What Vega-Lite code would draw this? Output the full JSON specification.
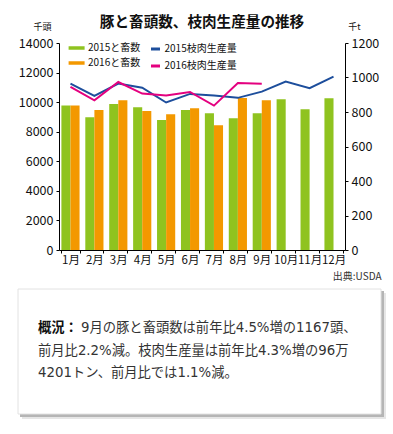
{
  "$schema": "https://vega.github.io/schema/vega-lite/v6.json",
  "padding": {"left": 17, "top": 14, "right": 5, "bottom": 5},
  "background": "white",
  "columns": 1,
  "align": "none",
  "spacing": 7,
  "config": {
    "font": "Noto Sans CJK JP",
    "view": {"stroke": null},
    "axis": {
      "labelFont": "Noto Sans CJK JP",
      "titleFont": "Noto Sans CJK JP",
      "domainColor": "#000",
      "tickColor": "#000",
      "labelColor": "#111",
      "titleColor": "#111",
      "grid": false,
      "tickSize": 3,
      "labelPadding": 3
    },
    "legend": {"labelFont": "Noto Sans CJK JP"}
  },
  "datasets": {
    "heads": [
      {"month": "1月", "series": "2015と畜数", "value": 9770},
      {"month": "2月", "series": "2015と畜数", "value": 8980},
      {"month": "3月", "series": "2015と畜数", "value": 9880},
      {"month": "4月", "series": "2015と畜数", "value": 9650},
      {"month": "5月", "series": "2015と畜数", "value": 8800},
      {"month": "6月", "series": "2015と畜数", "value": 9470},
      {"month": "7月", "series": "2015と畜数", "value": 9250},
      {"month": "8月", "series": "2015と畜数", "value": 8910},
      {"month": "9月", "series": "2015と畜数", "value": 9250},
      {"month": "10月", "series": "2015と畜数", "value": 10190},
      {"month": "11月", "series": "2015と畜数", "value": 9520},
      {"month": "12月", "series": "2015と畜数", "value": 10260},
      {"month": "1月", "series": "2016と畜数", "value": 9770},
      {"month": "2月", "series": "2016と畜数", "value": 9470},
      {"month": "3月", "series": "2016と畜数", "value": 10120},
      {"month": "4月", "series": "2016と畜数", "value": 9400},
      {"month": "5月", "series": "2016と畜数", "value": 9180},
      {"month": "6月", "series": "2016と畜数", "value": 9590},
      {"month": "7月", "series": "2016と畜数", "value": 8440},
      {"month": "8月", "series": "2016と畜数", "value": 10280},
      {"month": "9月", "series": "2016と畜数", "value": 10130}
    ],
    "meat": [
      {"month": "1月", "series": "2015枝肉生産量", "value": 965},
      {"month": "2月", "series": "2015枝肉生産量", "value": 893},
      {"month": "3月", "series": "2015枝肉生産量", "value": 965},
      {"month": "4月", "series": "2015枝肉生産量", "value": 941},
      {"month": "5月", "series": "2015枝肉生産量", "value": 855},
      {"month": "6月", "series": "2015枝肉生産量", "value": 905},
      {"month": "7月", "series": "2015枝肉生産量", "value": 895},
      {"month": "8月", "series": "2015枝肉生産量", "value": 882},
      {"month": "9月", "series": "2015枝肉生産量", "value": 918},
      {"month": "10月", "series": "2015枝肉生産量", "value": 976},
      {"month": "11月", "series": "2015枝肉生産量", "value": 938},
      {"month": "12月", "series": "2015枝肉生産量", "value": 1005},
      {"month": "1月", "series": "2016枝肉生産量", "value": 945},
      {"month": "2月", "series": "2016枝肉生産量", "value": 868},
      {"month": "3月", "series": "2016枝肉生産量", "value": 974},
      {"month": "4月", "series": "2016枝肉生産量", "value": 907},
      {"month": "5月", "series": "2016枝肉生産量", "value": 895},
      {"month": "6月", "series": "2016枝肉生産量", "value": 916},
      {"month": "7月", "series": "2016枝肉生産量", "value": 837},
      {"month": "8月", "series": "2016枝肉生産量", "value": 968},
      {"month": "9月", "series": "2016枝肉生産量", "value": 964}
    ],
    "notes": [
      {"line": 1, "part": "label", "text": "概況："},
      {"line": 1, "part": "body", "text": "9月の豚と畜頭数は前年比4.5%増の1167頭、"},
      {"line": 2, "part": "body", "text": "前月比2.2%減。枝肉生産量は前年比4.3%増の96万"},
      {"line": 3, "part": "body", "text": "4201トン、前月比では1.1%減。"}
    ],
    "box": [{"box": "概況"}]
  },
  "concat": [
    {
      "width": 286,
      "height": 207,
      "title": {"text": "豚と畜頭数、枝肉生産量の推移", "fontSize": 14.6, "fontWeight": "bold", "offset": -7.3, "color": "#111", "font": "Noto Sans CJK JP"},
      "encoding": {
        "x": {
          "field": "month",
          "type": "nominal",
          "sort": ["1月", "2月", "3月", "4月", "5月", "6月", "7月", "8月", "9月", "10月", "11月", "12月"],
          "scale": {"paddingInner": 0.24, "paddingOuter": 0.1},
          "axis": {
            "title": "出典:USDA",
            "labelAngle": 0,
            "tickBand": "extent",
            "labelFontSize": 11.5,
            "labelPadding": 1,
            "titleX": 322,
            "titleY": 26,
            "titleAlign": "right",
            "titleAnchor": null,
            "titleBaseline": "middle",
            "titleFontSize": 10,
            "titleFontWeight": "normal",
            "titleColor": "#333"
          }
        }
      },
      "layer": [
        {
          "data": {"name": "heads"},
          "mark": {"type": "bar"},
          "encoding": {
            "xOffset": {"field": "series", "type": "nominal", "sort": ["2015と畜数", "2016と畜数"]},
            "y": {
              "field": "value",
              "type": "quantitative",
              "scale": {"domain": [0, 14000], "nice": false},
              "axis": {
                "values": [0, 2000, 4000, 6000, 8000, 10000, 12000, 14000],
                "format": "d",
                "title": "千頭",
                "titleAngle": 0,
                "titleX": -17,
                "titleY": -17,
                "titleAlign": "center",
                "titleBaseline": "middle",
                "titleFontSize": 9,
                "titleFontWeight": "normal",
                "labelFontSize": 12.5
              }
            },
            "color": {
              "field": "series",
              "type": "nominal",
              "scale": {"domain": ["2015と畜数", "2016と畜数"], "range": ["#8fc31f", "#f39800"]},
              "legend": {
                "title": null,
                "orient": "none",
                "legendX": 12.6,
                "legendY": 0,
                "padding": 0,
                "symbolType": "M-1.6,-0.35H1.6V0.35H-1.6Z",
                "symbolSize": 100,
                "symbolStrokeWidth": 0,
                "labelFontSize": 10,
                "labelOffset": 6.4,
                "rowPadding": 5,
                "labelColor": "#111"
              }
            }
          }
        },
        {
          "data": {"name": "meat"},
          "mark": {"type": "line", "strokeWidth": 2},
          "encoding": {
            "y": {
              "field": "value",
              "type": "quantitative",
              "scale": {"domain": [0, 1200], "nice": false},
              "axis": {
                "orient": "right",
                "values": [0, 200, 400, 600, 800, 1000, 1200],
                "format": "d",
                "title": "千t",
                "titleAngle": 0,
                "titleX": 9,
                "titleY": -17,
                "titleAlign": "center",
                "titleBaseline": "middle",
                "titleFontSize": 9,
                "titleFontWeight": "normal",
                "labelFontSize": 12.5
              }
            },
            "color": {
              "field": "series",
              "type": "nominal",
              "scale": {"domain": ["2015枝肉生産量", "2016枝肉生産量"], "range": ["#1d4e9c", "#e4007f"]},
              "legend": {
                "title": null,
                "orient": "none",
                "legendX": 90.5,
                "legendY": 0,
                "padding": 0,
                "symbolType": "stroke",
                "symbolSize": 81,
                "symbolStrokeWidth": 3,
                "labelFontSize": 10,
                "labelOffset": 3,
                "rowPadding": 5,
                "labelColor": "#111"
              }
            }
          }
        }
      ],
      "resolve": {"scale": {"y": "independent", "color": "independent"}}
    },
    {
      "width": 363,
      "height": 125,
      "layer": [
        {
          "data": {"name": "box"},
          "mark": {"type": "rect", "fill": "#e6e6e6", "xOffset": -37, "x2Offset": -36, "yOffset": 4, "y2Offset": 5},
          "encoding": {
            "x": {"datum": 0, "type": "quantitative", "scale": {"domain": [0, 1]}, "axis": null},
            "x2": {"datum": 1},
            "y": {"datum": -0.77, "type": "quantitative", "scale": {"domain": [-0.77, 4.86], "reverse": true, "nice": false, "zero": false}, "axis": null},
            "y2": {"datum": 4.86}
          }
        },
        {
          "data": {"name": "box"},
          "mark": {"type": "rect", "fill": "#b5b5b5", "xOffset": -39, "x2Offset": -38, "yOffset": 2, "y2Offset": 3},
          "encoding": {
            "x": {"datum": 0, "type": "quantitative", "scale": {"domain": [0, 1]}, "axis": null},
            "x2": {"datum": 1},
            "y": {"datum": -0.77, "type": "quantitative", "scale": {"domain": [-0.77, 4.86], "reverse": true, "nice": false, "zero": false}, "axis": null},
            "y2": {"datum": 4.86}
          }
        },
        {
          "data": {"name": "box"},
          "mark": {"type": "rect", "fill": "white", "stroke": "#e2e2e2", "strokeWidth": 1, "xOffset": -41, "x2Offset": -41},
          "encoding": {
            "x": {"datum": 0, "type": "quantitative", "scale": {"domain": [0, 1]}, "axis": null},
            "x2": {"datum": 1},
            "y": {"datum": -0.77, "type": "quantitative", "scale": {"domain": [-0.77, 4.86], "reverse": true, "nice": false, "zero": false}, "axis": null},
            "y2": {"datum": 4.86}
          }
        },
        {
          "data": {"name": "notes"},
          "transform": [{"filter": "datum.part === 'label'"}],
          "mark": {"type": "text", "align": "left", "baseline": "middle", "dx": -21, "fontSize": 13.3, "fontWeight": "bold", "color": "#111"},
          "encoding": {
            "x": {"datum": 0, "type": "quantitative", "scale": {"domain": [0, 1]}, "axis": null},
            "y": {"field": "line", "type": "quantitative", "scale": {"domain": [-0.77, 4.86], "reverse": true, "nice": false, "zero": false}, "axis": null},
            "text": {"field": "text", "type": "nominal"}
          }
        },
        {
          "data": {"name": "notes"},
          "transform": [{"filter": "datum.part === 'body' && datum.line === 1"}],
          "mark": {"type": "text", "align": "left", "baseline": "middle", "dx": 22, "fontSize": 13.3, "color": "#333", "font": "DejaVu Sans, Noto Sans CJK JP"},
          "encoding": {
            "x": {"datum": 0, "type": "quantitative", "scale": {"domain": [0, 1]}, "axis": null},
            "y": {"field": "line", "type": "quantitative", "scale": {"domain": [-0.77, 4.86], "reverse": true, "nice": false, "zero": false}, "axis": null},
            "text": {"field": "text", "type": "nominal"}
          }
        },
        {
          "data": {"name": "notes"},
          "transform": [{"filter": "datum.part === 'body' && datum.line > 1"}],
          "mark": {"type": "text", "align": "left", "baseline": "middle", "dx": -21, "fontSize": 13.3, "color": "#333", "font": "DejaVu Sans, Noto Sans CJK JP"},
          "encoding": {
            "x": {"datum": 0, "type": "quantitative", "scale": {"domain": [0, 1]}, "axis": null},
            "y": {"field": "line", "type": "quantitative", "scale": {"domain": [-0.77, 4.86], "reverse": true, "nice": false, "zero": false}, "axis": null},
            "text": {"field": "text", "type": "nominal"}
          }
        }
      ]
    }
  ]
}
